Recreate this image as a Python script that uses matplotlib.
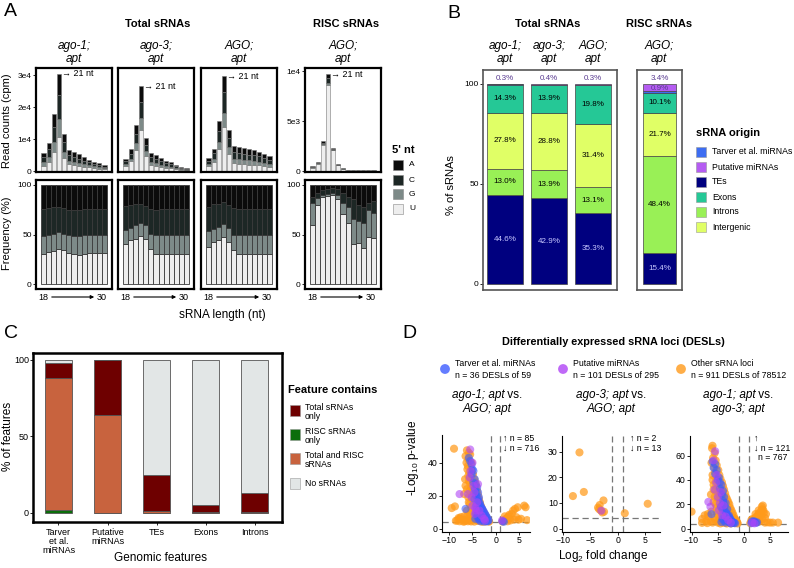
import numpy as np
import matplotlib
matplotlib.use("Agg")
import matplotlib.pyplot as plt
from matplotlib.patches import Rectangle

plt.rcParams['font.family'] = ['Liberation Sans', 'DejaVu Sans']
plt.rcParams['mathtext.fontset'] = 'custom'
plt.rcParams['mathtext.rm'] = 'Liberation Sans'

W, H = 794, 568

# ---------------- panel A data ----------------
lengths = list(range(18, 31))
nt_names = ['A', 'C', 'G', 'U']
nt_colors = {'A': '#0b0b0b', 'C': '#1d2725', 'G': '#7d8a88', 'U': '#eeeeee'}

tot_ago1 = [5600, 8900, 17800, 30500, 11700, 6700, 6000, 5200, 4300, 3600, 2900, 2400, 1800]
tot_ago3 = [3900, 6800, 14500, 26600, 10400, 5800, 4900, 4100, 3300, 2700, 2000, 1300, 900]
tot_agoapt = [4200, 7000, 15600, 29700, 13000, 7800, 7500, 7200, 6800, 6500, 6000, 5300, 4600]
tot_risc = [460, 920, 3000, 9700, 2300, 660, 300, 130, 100, 90, 80, 70, 60]

# percent of reads by 5' nucleotide (A is the remainder)
u_ago1 = [30, 32, 33, 35, 34, 31, 30, 29, 30, 31, 31, 31, 31]
g_ago1 = [18, 18, 18, 18, 17, 18, 18, 19, 19, 19, 19, 19, 19]
c_ago1 = [28, 27, 27, 25, 26, 26, 27, 27, 27, 26, 26, 26, 26]
u_ago3 = [40, 44, 45, 48, 45, 35, 30, 30, 30, 30, 30, 30, 30]
g_ago3 = [15, 13, 15, 14, 15, 16, 19, 19, 19, 19, 19, 19, 19]
c_ago3 = [24, 23, 21, 19, 19, 25, 26, 27, 27, 27, 27, 27, 27]
u_agoapt = [37, 42, 44, 47, 42, 34, 30, 30, 30, 30, 30, 30, 30]
g_agoapt = [17, 14, 14, 14, 15, 16, 19, 19, 19, 19, 19, 19, 19]
c_agoapt = [24, 25, 23, 22, 23, 27, 27, 27, 27, 27, 27, 27, 27]
u_risc = [60, 80, 88, 89, 90, 86, 71, 62, 40, 41, 36, 47, 46]
g_risc = [22, 7, 2, 2, 2, 4, 11, 16, 26, 23, 26, 28, 26]
c_risc = [6, 5, 5, 5, 5, 6, 10, 10, 20, 16, 16, 7, 12]

# ---------------- panel B data ----------------
b_samples = ['ago-1;', 'ago-3;', 'AGO;']
b_tes = [44.6, 42.9, 35.3]
b_introns = [13.0, 13.9, 13.1]
b_intergenic = [27.8, 28.8, 31.4]
b_exons = [14.3, 13.9, 19.8]
b_tarver = [0.05, 0.1, 0.1]
b_putative = [0.3, 0.4, 0.3]
r_tes, r_introns, r_intergenic, r_exons, r_tarver, r_putative = 15.4, 48.4, 21.7, 10.1, 0.9, 3.4
origin_names = ['Tarver et al. miRNAs', 'Putative miRNAs', 'TEs', 'Exons', 'Introns', 'Intergenic']
origin_colors = {'Tarver et al. miRNAs': '#3d6df2', 'Putative miRNAs': '#b55cf2', 'TEs': '#00007f',
                 'Exons': '#25c896', 'Introns': '#99f056', 'Intergenic': '#e0ff66'}

# ---------------- panel C data ----------------
c_features = ['Tarver\net al.\nmiRNAs', 'Putative\nmiRNAs', 'TEs', 'Exons', 'Introns']
c_risc_only = [1.7, 0.0, 0.1, 0.1, 0.2]
c_both = [86.3, 64.0, 1.2, 0.5, 0.4]
c_total_only = [10.0, 36.0, 23.7, 4.4, 12.4]
c_none = [2.0, 0.0, 75.0, 95.0, 87.0]
contain_names = ['Total sRNAs\nonly', 'RISC sRNAs\nonly', 'Total and RISC\nsRNAs', 'No sRNAs']
contain_colors = ['#6e0000', '#0b6e0b', '#c8633e', '#e2e6e6']

# ---------------- panel D data (log2FC, -log10 p) ----------------
d1_other = [(-9.0, 48.5), (-6.2, 47.5), (-5.8, 46), (-6.5, 44), (-5.5, 45), (-5.9, 42), (-5.2, 40), (-6.0, 38),
            (-5.3, 36), (-5.7, 34), (-4.9, 33), (-5.5, 31), (-4.6, 30), (-5.8, 29), (-4.4, 28), (-5.0, 27),
            (-6.5, 26), (-4.2, 26), (-4.8, 24.5), (-5.6, 23), (-4.0, 23), (-4.5, 21.5), (-6.8, 21), (-3.8, 20.5),
            (-5.2, 20), (-4.2, 19), (-3.6, 18), (-5.0, 18), (-4.6, 16.5), (-3.4, 16), (-5.8, 16), (-3.9, 15),
            (-3.2, 14), (-4.4, 14), (-5.3, 13), (-3.0, 12.5), (-3.7, 12.5), (-4.8, 12), (-2.8, 11), (-3.4, 11),
            (-6.2, 11), (-2.6, 10), (-4.1, 10), (-3.1, 9.5), (-5.5, 9), (-2.4, 9), (-3.6, 8.5), (-2.2, 8),
            (-4.5, 8), (-6.8, 7.5), (-7.5, 7), (-2.0, 7), (-2.9, 7), (-5.0, 7), (-8.0, 6.5), (-1.8, 6),
            (-3.3, 6), (-6.0, 6), (-7.2, 5.5), (-1.6, 5), (-2.5, 5), (-4.0, 5), (-5.5, 5), (-6.5, 5),
            (-8.3, 5), (-1.4, 4.3), (-2.2, 4.3), (-3.0, 4.3), (-4.6, 4.3), (-7.0, 4.3), (-9.5, 12.5),
            (-8.8, 13.5), (-7.8, 6), (-6.0, 4.5), (-3.8, 4.8),
            (-6.3, 40), (-6.1, 36), (-5.9, 32), (-5.6, 28), (-5.3, 25), (-5.0, 22), (-4.7, 19), (-4.4, 17),
            (-4.1, 15), (-3.8, 13), (-3.5, 12), (-3.2, 10.5), (-2.9, 9), (-2.6, 8), (-2.3, 7), (-2.0, 6),
            (-1.7, 5.5), (-1.5, 4.6), (-6.6, 30), (-6.2, 24), (-5.9, 19), (-5.6, 15), (-5.3, 10), (-6.0, 8),
            (-4.9, 6), (-4.3, 6.5), (-3.5, 5), (-2.8, 4.4), (-7.8, 4.5), (-8.6, 4.8), (-6.7, 4.4), (-5.3, 4.4),
            (1.5, 4.3), (1.8, 5), (2.2, 5.5), (2.5, 6.5), (2.8, 7.5), (3.0, 8.5), (2.0, 7.5), (3.5, 9),
            (3.8, 11), (4.2, 12), (4.8, 13), (6.2, 14), (6.5, 13), (3.2, 5), (4.0, 5.5), (5.0, 5.5),
            (6.8, 5.2), (2.6, 4.5), (4.5, 7), (5.5, 6), (2.3, 6.2), (2.9, 5.8)]
d1_tarver = [(-5.8, 43), (-5.5, 41), (-5.2, 39), (-5.0, 36), (-4.8, 35), (-5.2, 33), (-4.5, 30), (-4.8, 28),
             (-4.3, 27), (-4.0, 25), (-4.5, 24), (-3.8, 22), (-4.2, 20), (-3.6, 19), (-3.9, 17), (-3.4, 15),
             (-3.6, 13), (-3.0, 12), (-3.2, 10), (-2.8, 9), (-2.6, 8), (-3.0, 7), (-2.4, 6), (-2.8, 5.5),
             (-2.2, 5), (-2.0, 4.5), (-3.5, 6), (-6.5, 12), (-3.8, 9), (-4.2, 14), (1.5, 4.5), (1.8, 4.2),
             (-2.5, 4.3), (-3.3, 4.5),
             (-3.8, 18), (-3.5, 16), (-3.3, 14), (-3.1, 13), (-2.9, 12), (-2.7, 11), (-2.5, 10), (-2.3, 9),
             (-2.1, 8), (-1.9, 7), (-1.7, 6), (-1.5, 5), (-3.6, 11), (-3.3, 9), (-3.0, 8), (-2.7, 7),
             (-2.4, 6.5), (-2.0, 5.2), (-1.7, 4.5), (-4.0, 12), (-3.8, 10), (-3.5, 8), (-3.2, 6.5),
             (-2.9, 5.5), (-4.2, 9), (-3.9, 7), (-3.6, 5.5), (-4.4, 6), (-4.6, 18), (-4.3, 22)]
d1_putative = [(-5.5, 48), (-5.0, 40), (-5.6, 31), (-7.8, 21), (-5.2, 19), (-6.0, 21), (-4.6, 22), (-4.0, 16),
               (-3.5, 11), (-3.0, 8), (-2.5, 6), (-4.5, 9), (-5.0, 14), (-3.8, 27), (-2.3, 5), (1.4, 5), (-4.2, 11),
               (-4.8, 26), (-5.4, 35), (-4.4, 12.5)]
d2_other = [(-8.2, 12.7), (-7.0, 29.7), (-6.2, 14.3), (-3.6, 8.2), (-3.3, 9.2), (-2.6, 11), (-3.1, 7.1),
            (-2.8, 6.3), (-3.4, 7.6), (-2.5, 6.6), (1.3, 6), (5.5, 9.7)]
d2_tarver = []
d2_putative = [(-3.0, 7.0)]
d3_other = [(-6.0, 68), (-6.1, 66), (-5.6, 62), (-5.9, 58), (-5.4, 56), (-6.2, 54), (-5.2, 52), (-5.7, 50),
            (-4.9, 48), (-5.5, 46), (-4.7, 44), (-6.0, 44), (-4.5, 41), (-5.3, 40), (-4.2, 38), (-5.8, 36),
            (-4.0, 35), (-4.8, 34), (-3.8, 32), (-5.5, 31), (-4.4, 30), (-3.6, 29), (-6.3, 28), (-4.0, 27),
            (-3.4, 26), (-5.0, 25), (-3.2, 24), (-4.3, 23), (-3.0, 22), (-5.8, 22), (-3.7, 21), (-2.8, 20),
            (-4.6, 19), (-3.3, 18), (-2.6, 17), (-5.2, 17), (-3.9, 16), (-2.4, 15), (-3.0, 14), (-6.2, 14),
            (-4.4, 13), (-2.2, 13), (-3.5, 12), (-2.0, 11), (-5.0, 11), (-2.7, 10), (-1.9, 9), (-3.8, 9),
            (-6.8, 10), (-1.7, 8), (-2.4, 8), (-4.6, 8), (-8.0, 8), (-1.6, 7), (-3.0, 7), (-5.5, 7),
            (-1.4, 6), (-2.2, 6), (-3.6, 6), (-6.4, 6), (-7.2, 6), (-1.3, 5), (-2.0, 5), (-2.8, 5),
            (-4.0, 5), (-5.0, 5), (-6.0, 5), (-1.2, 4.3), (-2.5, 4.3), (-3.3, 4.3), (-4.5, 4.3),
            (-10.0, 14), (-7.5, 11), (-6.9, 12),
            (-5.3, 36), (-5.0, 30), (-4.7, 27), (-4.5, 24), (-4.2, 20), (-3.9, 18), (-3.6, 15), (-3.3, 13),
            (-3.0, 11), (-2.7, 9), (-2.4, 7), (-2.1, 5.5), (-1.8, 4.6), (-6.0, 40), (-5.8, 32), (-5.6, 26),
            (-5.4, 20), (-5.2, 14), (-5.6, 9), (-4.8, 6), (-4.2, 6.5), (-3.6, 5), (-7.0, 4.6), (-8.0, 4.8),
            (1.2, 4.5), (1.5, 5.5), (1.8, 6.5), (2.0, 8), (2.3, 9.5), (2.6, 11), (2.9, 12.5), (3.2, 14),
            (3.5, 16), (3.6, 19), (3.4, 18), (2.8, 15), (3.8, 13), (2.5, 7), (3.0, 6), (3.5, 7.5),
            (4.0, 9), (4.0, 5), (4.5, 5.2), (5.0, 5), (5.5, 5), (6.5, 5), (3.0, 10), (1.6, 8), (2.2, 12),
            (4.2, 12), (2.6, 5.5), (3.3, 11), (2.0, 6), (1.4, 7), (3.7, 15)]
d3_tarver = [(-6.0, 55), (-5.5, 53), (-5.8, 50), (-5.2, 48), (-5.5, 45), (-4.8, 42), (-5.0, 40), (-4.6, 38),
             (-4.3, 36), (-4.6, 33), (-4.0, 31), (-4.2, 28), (-3.8, 26), (-4.0, 23), (-3.5, 21), (-3.7, 18),
             (-3.2, 16), (-3.4, 13), (-2.9, 11), (-3.0, 9), (-2.6, 8), (-2.8, 6), (-2.3, 5.5), (-2.0, 4.8),
             (-3.5, 5), (-6.2, 12), (-4.4, 18), (1.4, 4.5), (1.7, 5), (2.0, 5.5), (2.3, 4.8), (1.9, 6.2),
             (2.5, 5.2), (1.5, 6), (-2.5, 4.3),
             (-3.6, 14), (-3.3, 12), (-3.1, 10), (-2.8, 9.5), (-2.6, 7.5), (-2.4, 6.5), (-2.2, 5.5),
             (-1.9, 5), (-1.7, 4.5), (-3.9, 11), (-3.6, 9), (-3.3, 7), (-3.0, 6), (-2.7, 5), (-4.1, 8),
             (-3.8, 6.5), (-4.3, 5.5), (-3.9, 21), (-4.1, 16)]
d3_putative = [(-5.5, 63.5), (-5.8, 56), (-5.2, 44), (-6.8, 22), (-5.6, 32), (-5.0, 26), (-4.6, 21), (-3.9, 19),
               (-4.8, 15), (-3.5, 10), (-3.0, 7), (-2.5, 5), (-6.4, 18), (-4.2, 11), (2.0, 4.4), (1.6, 4.9),
               (-4.4, 30), (-5.3, 38)]
d_up = [85, 2, 121]
d_down = [716, 13, 767]
d_legend = [('Tarver et al. miRNAs', 36, 59), ('Putative miRNAs', 101, 295), ('Other sRNA loci', 911, 78512)]
d_colors = ['#3d5cff', '#b044f5', '#ff9a1a']

fig = plt.figure(figsize=(W / 100, H / 100), dpi=100)


def px_axes(x0, y0, x1, y1):
    return fig.add_axes([x0 / W, 1 - y1 / H, (x1 - x0) / W, (y1 - y0) / H])


# overlay in pixel coordinates for free text / legends (drawn on top)
ov = fig.add_axes([0, 0, 1, 1])
ov.set_xlim(0, W)
ov.set_ylim(H, 0)
ov.axis('off')
ov.patch.set_visible(False)
ov.set_zorder(10)

# ================= Panel A =================
ov.text(4, 12, 'A', fontsize=14, va='center')
ov.text(158, 24, 'Total sRNAs', fontsize=8, fontweight='bold', ha='center', va='center')
ov.text(346, 24, 'RISC sRNAs', fontsize=8, fontweight='bold', ha='center', va='center')

cols = [(36, 112), (118, 194), (201, 277), (305, 381)]
a_sets = [(tot_ago1, u_ago1, g_ago1, c_ago1, 'ago-1;'),
          (tot_ago3, u_ago3, g_ago3, c_ago3, 'ago-3;'),
          (tot_agoapt, u_agoapt, g_agoapt, c_agoapt, 'AGO;'),
          (tot_risc, u_risc, g_risc, c_risc, 'AGO;')]

for i, ((x0, x1), (tot, u, g, c, name)) in enumerate(zip(cols, a_sets)):
    u = np.array(u, float)
    g = np.array(g, float)
    c = np.array(c, float)
    a = 100 - u - g - c
    tot = np.array(tot, float)
    xc = (x0 + x1) / 2
    ov.text(xc, 46, name, fontsize=8.5, style='italic', ha='center', va='center')
    ov.text(xc, 59, 'apt', fontsize=8.5, style='italic', ha='center', va='center')

    axc = px_axes(x0, 68, x1, 172)
    axf = px_axes(x0, 180, x1, 289)
    for ax in (axc, axf):
        ax.set_xlim(16.5, 31.5)
        ax.set_xticks([])
        for s in ax.spines.values():
            s.set_linewidth(1.6)
        ax.tick_params(axis='y', length=2, width=0.6, labelsize=6, pad=1)

    bot_c = np.zeros(13)
    bot_f = np.zeros(13)
    for frac, nt in zip([u, g, c, a], ['U', 'G', 'C', 'A']):
        axc.bar(lengths, tot * frac / 100, bottom=bot_c, width=0.85, color=nt_colors[nt],
                edgecolor='#777777', linewidth=0.4)
        axf.bar(lengths, frac, bottom=bot_f, width=1.0, color=nt_colors[nt],
                edgecolor='#3a3a3a', linewidth=0.6)
        bot_c += tot * frac / 100
        bot_f += frac

    if i < 3:
        axc.set_ylim(-300, 32300)
        axc.set_yticks([0, 10000, 20000, 30000])
        axc.set_yticklabels(['0', '1e4', '2e4', '3e4'])
    else:
        axc.set_ylim(-100, 10300)
        axc.set_yticks([0, 5000, 10000])
        axc.set_yticklabels(['0', '5e3', '1e4'])
    axf.set_ylim(-5, 105)
    axf.set_yticks([0, 50, 100])
    if i in (1, 2):
        axc.tick_params(axis='y', length=0, labelleft=False)
        axf.tick_params(axis='y', length=0, labelleft=False)
    axc.text(21.55, tot[3], '→ 21 nt', fontsize=6.5, va='center')

    ov.text(x0 + 2, 297, '18', fontsize=6.5, va='center')
    ov.annotate('', xy=(x1 - 15, 297), xytext=(x0 + 13, 297),
                arrowprops=dict(arrowstyle='-|>', lw=0.8, color='k', mutation_scale=5))
    ov.text(x1 - 15, 297, '30', fontsize=6.5, va='center')

ov.text(7, 121, 'Read counts (cpm)', fontsize=8, rotation=90, ha='center', va='center')
ov.text(7, 233, 'Frequency (%)', fontsize=8, rotation=90, ha='center', va='center')
ov.text(222, 315, 'sRNA length (nt)', fontsize=8.5, ha='center', va='center')

ov.text(392, 150, "5' nt", fontsize=8, fontweight='bold', va='center')
for k, (nt, yy) in enumerate(zip(nt_names, [165, 180, 194, 209])):
    ov.add_patch(Rectangle((393, yy - 5), 10, 10, facecolor=nt_colors[nt], edgecolor='#888888', lw=0.4))
    ov.text(409, yy, nt, fontsize=6, va='center')

# ================= Panel B =================
ov.text(447, 14, 'B', fontsize=14, va='center')
ov.text(548, 24, 'Total sRNAs', fontsize=8, fontweight='bold', ha='center', va='center')
ov.text(659, 24, 'RISC sRNAs', fontsize=8, fontweight='bold', ha='center', va='center')
for xc, nm in zip([505, 549, 593, 659], b_samples + ['AGO;']):
    ov.text(xc, 46, nm, fontsize=8.5, style='italic', ha='center', va='center')
    ov.text(xc, 59, 'apt', fontsize=8.5, style='italic', ha='center', va='center')

axB = px_axes(483, 70, 617, 290)
axR = px_axes(637, 70, 682, 290)
b_stack = [('TEs', b_tes, r_tes), ('Introns', b_introns, r_introns), ('Intergenic', b_intergenic, r_intergenic),
           ('Exons', b_exons, r_exons), ('Tarver et al. miRNAs', b_tarver, r_tarver),
           ('Putative miRNAs', b_putative, r_putative)]
xb = np.arange(len(b_samples))
bot = np.zeros(len(b_samples))
rbot = 0.0
for name, vals, rv in b_stack:
    vals = np.array(vals)
    axB.bar(xb, vals, bottom=bot, width=0.82, color=origin_colors[name], edgecolor='#444444', linewidth=0.5)
    axR.bar([0], [rv], bottom=[rbot], width=0.8, color=origin_colors[name], edgecolor='#444444', linewidth=0.5)
    if name in ('TEs', 'Introns', 'Intergenic', 'Exons'):
        tc = '#c8c8ff' if name == 'TEs' else 'black'
        for xi, v, b0 in zip(xb, vals, bot):
            axB.text(xi, b0 + v / 2, f'{v:.1f}%', fontsize=5.8, ha='center', va='center', color=tc)
        axR.text(0, rbot + rv / 2, f'{rv:.1f}%', fontsize=5.8, ha='center', va='center', color=tc)
    bot = bot + vals
    rbot += rv
for xi, v in zip(xb, b_putative):
    axB.text(xi, 102.5, f'{v:.1f}%', fontsize=5.8, ha='center', va='center', color='#5b3d91')
axR.text(0, 102.5, f'{r_putative:.1f}%', fontsize=5.8, ha='center', va='center', color='#5b3d91')
axR.text(0, 97.8, f'{r_tarver:.1f}%', fontsize=5.8, ha='center', va='center', color='#5b3d91')

for ax, xl in ((axB, (-0.5, 2.55)), (axR, (-0.56, 0.56))):
    ax.set_xlim(*xl)
    ax.set_ylim(-3, 107)
    ax.set_xticks([])
    for s in ax.spines.values():
        s.set_linewidth(1.2)
        s.set_color('#555555')
axB.set_yticks([0, 50, 100])
axB.tick_params(axis='y', length=2, width=0.6, labelsize=6, pad=1)
axR.set_yticks([])
ov.text(451, 185, '% of sRNAs', fontsize=8, rotation=90, ha='center', va='center')

ov.text(696, 133, 'sRNA origin', fontsize=8, fontweight='bold', va='center')
for name, yy in zip(origin_names, [152, 167, 182, 197, 212, 227]):
    ov.add_patch(Rectangle((696, yy - 5), 10, 10, facecolor=origin_colors[name], edgecolor='#999999', lw=0.4))
    ov.text(712, yy, name, fontsize=6.3, va='center')

# ================= Panel C =================
ov.text(4, 334, 'C', fontsize=14, va='center')
axC = px_axes(33, 353, 282, 522)
xcf = np.arange(len(c_features))
bot = np.zeros(len(c_features))
for vals, col in zip([c_risc_only, c_both, c_total_only, c_none],
                     [contain_colors[1], contain_colors[2], contain_colors[0], contain_colors[3]]):
    axC.bar(xcf, vals, bottom=bot, width=0.55, color=col, edgecolor='#555555', linewidth=0.6)
    bot = bot + np.array(vals)
axC.set_xlim(-0.52, 4.56)
axC.set_ylim(-6, 104.5)
axC.set_yticks([0, 50, 100])
axC.set_xticks(xcf)
axC.set_xticklabels(c_features, fontsize=6.5, linespacing=1.0)
axC.tick_params(axis='y', length=2, width=0.6, labelsize=6.5, pad=1)
axC.tick_params(axis='x', length=2, width=0.6, pad=2)
for s in axC.spines.values():
    s.set_linewidth(1.8)
ov.text(8, 436, '% of features', fontsize=8.5, rotation=90, ha='center', va='center')
ov.text(160, 558, 'Genomic features', fontsize=8.5, ha='center', va='center')

ov.text(288, 390, 'Feature contains', fontsize=8, fontweight='bold', va='center')
for name, col, yy in zip(contain_names, contain_colors, [410, 434, 458, 483]):
    ov.add_patch(Rectangle((290, yy - 5), 10, 11, facecolor=col, edgecolor='#999999', lw=0.4))
    ov.text(305, yy + 2 if '\n' in name else yy, name, fontsize=6.3, va='center', linespacing=1.0)

# ================= Panel D =================
ov.text(402, 334, 'D', fontsize=14, va='center')
ov.text(613, 342, 'Differentially expressed sRNA loci (DESLs)', fontsize=7.8, fontweight='bold',
        ha='center', va='center')
for (lab, n, of), col, xd in zip(d_legend, d_colors, [445, 563, 681]):
    ov.scatter([xd], [369], s=50, color=col, alpha=0.8, edgecolors='none')
    ov.text(xd + 10, 364, lab, fontsize=6.3, va='center')
    ov.text(xd + 10, 376, f'n = {n} DESLs of {of}', fontsize=6.3, va='center')

renderer = fig.canvas.get_renderer()


def mixed(xc, y, parts, size=8.5):
    objs = [ov.text(0, y, t, fontsize=size, style=s, va='center', ha='left') for t, s in parts]
    ws = [o.get_window_extent(renderer=renderer).width for o in objs]
    x = xc - sum(ws) / 2
    for o, w in zip(objs, ws):
        o.set_x(x)
        x += w


subs = [('ago-1; apt', 'AGO; apt'), ('ago-3; apt', 'AGO; apt'), ('ago-1; apt', 'ago-3; apt')]
for xc, (l1, l2) in zip([487, 611, 738], subs):
    mixed(xc, 395, [(l1, 'italic'), (' vs.', 'normal')])
    mixed(xc, 409, [(l2, 'italic')])

d_boxes = [(442, 435, 530, 532), (562, 436, 660, 532), (690, 436, 788, 532)]
d_xlims = [(-11.6, 7.45), (-10.2, 7.75), (-10.3, 8.4)]
d_ylims = [(-2, 56.8), (-1.3, 36.1), (-2.7, 76)]
d_yticks = [[0, 20, 40], [0, 10, 20, 30], [0, 20, 40, 60]]
d_sets = [(d1_other, d1_tarver, d1_putative), (d2_other, d2_tarver, d2_putative),
          (d3_other, d3_tarver, d3_putative)]
for k in range(3):
    ax = px_axes(*d_boxes[k])
    ax.patch.set_visible(False)
    other, tarver, putative = d_sets[k]
    for pts, col, al in ((other, d_colors[2], 0.72), (tarver, d_colors[0], 0.6), (putative, d_colors[1], 0.6)):
        if pts:
            arr = np.array(pts)
            ax.scatter(arr[:, 0], arr[:, 1], s=34, color=col, alpha=al, edgecolors='none', zorder=2)
    for xv in (-1, 1):
        ax.axvline(xv, color='#777777', ls=(0, (5, 3)), lw=0.9, zorder=1)
    ax.axhline(4, color='#777777', ls=(0, (5, 3)), lw=0.9, zorder=1)
    ax.set_xlim(*d_xlims[k])
    ax.set_ylim(*d_ylims[k])
    ax.set_xticks([-10, -5, 0, 5])
    ax.set_yticks(d_yticks[k])
    ax.spines['top'].set_visible(False)
    ax.spines['right'].set_visible(False)
    for s in ('left', 'bottom'):
        ax.spines[s].set_linewidth(0.8)
    ax.tick_params(length=2, width=0.6, labelsize=6.3, pad=1)

ov.text(503, 438, f'↑ n = {d_up[0]}', fontsize=6.3, va='center')
ov.text(503, 448, f'↓ n = {d_down[0]}', fontsize=6.3, va='center')
ov.text(630, 438, f'↑ n = {d_up[1]}', fontsize=6.3, va='center')
ov.text(630, 448, f'↓ n = {d_down[1]}', fontsize=6.3, va='center')
ov.text(754, 438, '↑', fontsize=6.3, va='center')
ov.text(754, 448, f'↓ n = {d_up[2]}', fontsize=6.3, va='center')
ov.text(758, 458, f'n = {d_down[2]}', fontsize=6.3, va='center')

ov.text(413, 458, r'-Log$_{10}$ p-value', fontsize=8.5, rotation=90, ha='center', va='center')
ov.text(603, 556, r'Log$_2$ fold change', fontsize=8.5, ha='center', va='center')

fig.savefig('out.png', dpi=100)
